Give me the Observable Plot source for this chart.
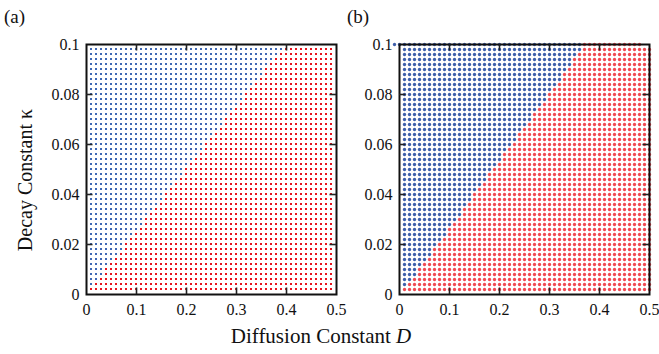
<!DOCTYPE html>
<html>
<head>
<meta charset="utf-8">
<script src="https://cdn.jsdelivr.net/npm/d3@7"></script>
<script src="https://cdn.jsdelivr.net/npm/@observablehq/plot@0.6"></script>
<style>
  html, body { margin: 0; padding: 0; background: #fff; }
  #wrap { position: relative; width: 659px; height: 354px; overflow: hidden; font-family: "Liberation Serif", "DejaVu Serif", serif; color: #111; }
  .panel { position: absolute; top: 0; }
  .panel svg, .panel svg text { font-family: "Liberation Serif", serif !important; }
  .lbl { position: absolute; white-space: nowrap; font-family: "Liberation Serif", serif; color: #111; }
</style>
</head>
<body>
<div id="wrap">
  <div class="panel" id="pa" style="left:0px;"></div>
  <div class="panel" id="pb" style="left:313px;"></div>
  <div class="lbl" style="left:4px; top:6px; font-size:19px;">(a)</div>
  <div class="lbl" style="left:347px; top:6px; font-size:19px;">(b)</div>
  <div class="lbl" id="ylab" style="left:25px; top:180px; font-size:20px; transform: translate(-50%,-50%) rotate(-90deg);">Decay Constant κ</div>
  <div class="lbl" id="xlab" style="left:321px; top:349px; font-size:21px; transform: translate(-50%,-100%);">Diffusion Constant <i>D</i></div>
</div>
<script>
// Grid columns (diffusion constant D) and rows (decay constant kappa)
const diffusionD = [0.01,0.02,0.03,0.04,0.05,0.06,0.07,0.08,0.09,0.10,
  0.11,0.12,0.13,0.14,0.15,0.16,0.17,0.18,0.19,0.20,
  0.21,0.22,0.23,0.24,0.25,0.26,0.27,0.28,0.29,0.30,
  0.31,0.32,0.33,0.34,0.35,0.36,0.37,0.38,0.39,0.40,
  0.41,0.42,0.43,0.44,0.45,0.46,0.47,0.48,0.49,0.50];
const decayKappa = [0.002,0.004,0.006,0.008,0.010,0.012,0.014,0.016,0.018,0.020,
  0.022,0.024,0.026,0.028,0.030,0.032,0.034,0.036,0.038,0.040,
  0.042,0.044,0.046,0.048,0.050,0.052,0.054,0.056,0.058,0.060,
  0.062,0.064,0.066,0.068,0.070,0.072,0.074,0.076,0.078,0.080,
  0.082,0.084,0.086,0.088,0.090,0.092,0.094,0.096,0.098];
// number of blue points (from D=0.01 upward) in each kappa row
const blueCountA = [0,1,2,3,3,4,5,6,7,7,8,9,10,11,11,12,13,14,15,15,16,17,18,19,19,
  20,21,22,23,23,24,25,26,27,27,28,29,30,31,31,32,33,34,35,35,36,37,38,39];
const blueCountB = [0,1,2,3,3,4,5,6,6,7,8,9,9,10,11,12,12,13,14,14,15,16,17,17,18,
  19,20,20,21,22,23,23,24,25,26,26,27,28,29,29,30,31,32,32,33,34,34,35,36];
// extra row drawn on the top edge of panel (b)
const topRowKappaB = 0.1;
const topRowD_B = [-0.01,0.00,0.01,0.02,0.03,0.04,0.05,0.06,0.07,0.08,0.09,
  0.10,0.11,0.12,0.13,0.14,0.15,0.16,0.17,0.18,0.19,0.20,0.21,0.22,0.23,0.24,
  0.25,0.26,0.27,0.28,0.29,0.30,0.31,0.32,0.33,0.34,0.35,0.36,0.37,0.38,0.39,
  0.40,0.41,0.42,0.43,0.44,0.45,0.46,0.47,0.48];
const topRowBlueB = 38;

const phases = ["upper", "lower"];
const xTicks = [0, 0.1, 0.2, 0.3, 0.4, 0.5];
const yTicks = [0, 0.02, 0.04, 0.06, 0.08, 0.1];
const serif = "Liberation Serif, serif";

function gridPoints(nCols, counts) {
  const pts = [];
  decayKappa.forEach((k, i) => {
    for (let j = 0; j < nCols; j++) {
      pts.push({D: diffusionD[j], kappa: k, phase: j < counts[i] ? phases[0] : phases[1]});
    }
  });
  return pts;
}

const ptsA = gridPoints(49, blueCountA);
const ptsB = gridPoints(50, blueCountB);
topRowD_B.forEach((d, j) => ptsB.push({D: d, kappa: topRowKappaB, phase: j < topRowBlueB ? phases[0] : phases[1]}));

function panel(points, colors, dotOpts) {
  return Plot.plot({
    width: 346, height: 354,
    marginLeft: 86, marginRight: 10, marginTop: 44, marginBottom: 60,
    style: {fontFamily: serif, fontSize: "16px", color: "#111", background: "transparent", overflow: "visible"},
    x: {domain: [0, 0.5], axis: null},
    y: {domain: [0, 0.1], axis: null},
    color: {type: "ordinal", domain: phases, range: colors},
    marks: [
      Plot.dot(points, {x: "D", y: "kappa", fill: "phase", ...dotOpts}),
      Plot.frame({stroke: "#111", strokeWidth: 2}),
      Plot.ruleX(xTicks.slice(1, -1), {y1: 0, y2: 0.0026, stroke: "#222", strokeWidth: 1.6}),
      Plot.ruleX(xTicks.slice(1, -1), {y1: 0.1, y2: 0.0974, stroke: "#222", strokeWidth: 1.6}),
      Plot.ruleY(yTicks.slice(1, -1), {x1: 0, x2: 0.013, stroke: "#222", strokeWidth: 1.6}),
      Plot.ruleY(yTicks.slice(1, -1), {x1: 0.5, x2: 0.487, stroke: "#222", strokeWidth: 1.6}),
      Plot.axisX(xTicks, {tickSize: 0, tickPadding: 9, tickFormat: d => String(d), fontSize: 16, fontFamily: serif, label: null}),
      Plot.axisY(yTicks, {tickSize: 0, tickPadding: 7, tickFormat: d => String(d), fontSize: 16, fontFamily: serif, label: null})
    ]
  });
}

document.getElementById("pa").appendChild(
  panel(ptsA, ["#3f68b4", "#e8141e"], {symbol: "square", r: 1.15, dx: -0.5, dy: -0.5}));
document.getElementById("pb").appendChild(
  panel(ptsB, ["#3e5faa", "#ef4a52"], {symbol: "circle", r: 1.65}));
</script>
</body>
</html>
